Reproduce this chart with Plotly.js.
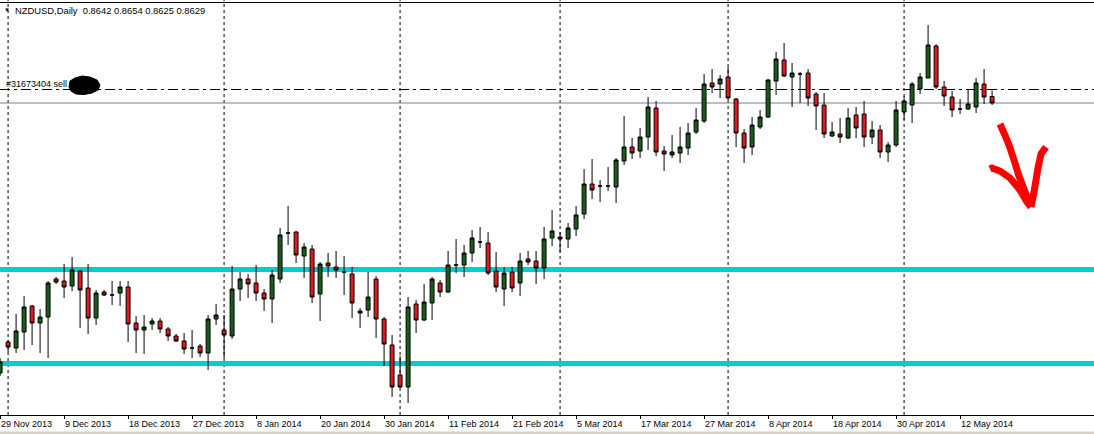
<!DOCTYPE html>
<html><head><meta charset="utf-8">
<script src="https://cdn.plot.ly/plotly-3.0.1.min.js"></script>
<style>html,body{margin:0;padding:0;background:#fff}#chart{width:1094px;height:434px}</style>
</head><body><div id="chart"></div>
<script>
// NZDUSD daily bars, 29 Nov 2013 .. 16 May 2014 (one entry per bar)
const openP = [
0.8089,0.8151,0.8139,0.8171,0.8223,0.8189,0.8201,0.8277,0.8273,0.8263,
0.8293,0.8259,0.8199,0.8251,0.8245,0.8249,0.8261,0.8189,0.8175,0.8187,
0.8193,0.8177,0.8163,0.8153,0.8139,0.8143,0.8129,0.8197,0.8175,0.8163,
0.8257,0.8277,0.8269,0.8249,0.8237,0.8277,0.8369,0.8371,0.8323,0.8337,
0.8247,0.8309,0.8301,0.8291,0.8287,0.8209,0.8215,0.8277,0.8197,0.8145,
0.8085,0.8061,0.8227,0.8195,0.8229,0.8269,0.8251,0.8305,0.8305,0.8329,
0.8351,0.8349,0.8293,0.8257,0.8291,0.8269,0.8317,0.8313,0.8299,0.8359,
0.8361,0.8357,0.8377,0.8407,0.8467,0.8463,0.8463,0.8461,0.8513,0.8541,
0.8533,0.8561,0.8619,0.8533,0.8525,0.8529,0.8539,0.8571,0.8593,0.8669,
0.8667,0.8681,0.8637,0.8569,0.8541,0.8581,0.8601,0.8673,0.8715,0.8681,
0.8687,0.8689,0.8647,0.8625,0.8563,0.8567,0.8559,0.8605,0.8607,0.8561,
0.8575,0.8531,0.8545,0.8611,0.8625,0.8657,0.8679,0.8743,0.8661,0.8641,
0.8617,0.8617,0.8621,0.8667,0.8642];
const highP = [
0.8119,0.8155,0.8207,0.8243,0.8225,0.8217,0.8273,0.8281,0.8307,0.8321,
0.8295,0.8307,0.8255,0.8255,0.8273,0.8273,0.8273,0.8203,0.8205,0.8199,
0.8199,0.8181,0.8167,0.8169,0.8175,0.8147,0.8205,0.8227,0.8205,0.8303,
0.8291,0.8287,0.8305,0.8257,0.8295,0.8379,0.8423,0.8373,0.8349,0.8345,
0.8311,0.8329,0.8333,0.8323,0.8301,0.8219,0.8291,0.8283,0.8201,0.8165,
0.8123,0.8241,0.8235,0.8267,0.8281,0.8275,0.8333,0.8357,0.8345,0.8375,
0.8381,0.8371,0.8331,0.8301,0.8301,0.8329,0.8333,0.8333,0.8381,0.8415,
0.8371,0.8389,0.8423,0.8497,0.8517,0.8475,0.8501,0.8519,0.8603,0.8559,
0.8579,0.8641,0.8633,0.8543,0.8565,0.8581,0.8589,0.8619,0.8687,0.8697,
0.8685,0.8701,0.8639,0.8577,0.8601,0.8615,0.8677,0.8731,0.8749,0.8709,
0.8691,0.8697,0.8651,0.8649,0.8591,0.8599,0.8619,0.8621,0.8633,0.8593,
0.8585,0.8551,0.8633,0.8643,0.8671,0.8689,0.8785,0.8747,0.8673,0.8653,
0.8637,0.8657,0.8679,0.8697,0.8654];
const lowP = [
0.8083,0.8131,0.8129,0.8135,0.8145,0.8129,0.8119,0.8267,0.8239,0.8253,
0.8179,0.8167,0.8185,0.8243,0.8225,0.8223,0.8151,0.8129,0.8127,0.8175,
0.8169,0.8153,0.8151,0.8127,0.8119,0.8121,0.8095,0.8185,0.8119,0.8157,
0.8233,0.8239,0.8233,0.8213,0.8189,0.8269,0.8345,0.8309,0.8279,0.8229,
0.8193,0.8281,0.8279,0.8245,0.8199,0.8179,0.8201,0.8159,0.8103,0.8041,
0.8059,0.8029,0.8169,0.8193,0.8195,0.8241,0.8249,0.8289,0.8281,0.8311,
0.8339,0.8285,0.8251,0.8223,0.8251,0.8243,0.8305,0.8267,0.8277,0.8343,
0.8331,0.8339,0.8363,0.8397,0.8437,0.8431,0.8453,0.8429,0.8505,0.8517,
0.8519,0.8535,0.8523,0.8493,0.8519,0.8509,0.8525,0.8567,0.8589,0.8649,
0.8639,0.8635,0.8541,0.8509,0.8525,0.8577,0.8599,0.8645,0.8681,0.8621,
0.8629,0.8623,0.8575,0.8559,0.8561,0.8549,0.8557,0.8559,0.8541,0.8547,
0.8519,0.8511,0.8541,0.8595,0.8589,0.8647,0.8679,0.8657,0.8623,0.8601,
0.8607,0.8615,0.8609,0.8627,0.8625];
const closeP = [
0.8111,0.8141,0.8173,0.8221,0.8189,0.8201,0.8269,0.8271,0.8261,0.8295,
0.8255,0.8199,0.8249,0.8245,0.8245,0.8261,0.8187,0.8175,0.8181,0.8193,
0.8177,0.8163,0.8153,0.8137,0.8139,0.8129,0.8197,0.8205,0.8165,0.8257,
0.8277,0.8267,0.8249,0.8237,0.8285,0.8365,0.8369,0.8325,0.8341,0.8241,
0.8307,0.8303,0.8295,0.8291,0.8229,0.8213,0.8241,0.8197,0.8147,0.8061,
0.8061,0.8221,0.8195,0.8231,0.8277,0.8251,0.8305,0.8305,0.8329,0.8359,
0.8351,0.8289,0.8261,0.8289,0.8259,0.8313,0.8311,0.8299,0.8357,0.8373,
0.8357,0.8379,0.8405,0.8467,0.8455,0.8463,0.8463,0.8515,0.8541,0.8529,
0.8561,0.8621,0.8531,0.8527,0.8531,0.8541,0.8569,0.8595,0.8667,0.8661,
0.8677,0.8639,0.8569,0.8539,0.8585,0.8601,0.8675,0.8717,0.8683,0.8689,
0.8687,0.8639,0.8623,0.8567,0.8571,0.8561,0.8599,0.8579,0.8561,0.8575,
0.8531,0.8545,0.8615,0.8633,0.8667,0.8681,0.8745,0.8661,0.8643,0.8615,
0.8617,0.8627,0.8669,0.8641,0.8629];

// time-scale labels (one every 8 bars) and first bar of each month
const tickLabels = ["29 Nov 2013","9 Dec 2013","18 Dec 2013","27 Dec 2013","8 Jan 2014",
  "20 Jan 2014","30 Jan 2014","11 Feb 2014","21 Feb 2014","5 Mar 2014","17 Mar 2014",
  "27 Mar 2014","8 Apr 2014","18 Apr 2014","30 Apr 2014","12 May 2014"];
const barsPerTick = 8;
const monthStartBars = [1, 28, 50, 70, 91, 113];

// horizontal levels
const supportLevels = [0.8296, 0.8108];
const orderPrice = 0.8656;
const orderLabel = "#31673404 sell";
const symbolTitle = "NZDUSD,Daily";

// ---------- drawing ----------
const W = 1094, H = 434, PB = 415;
const px = x => x / W;
const py = y => (PB - y) / PB;
const FONT = "Liberation Sans, Arial, sans-serif";

const idx = openP.map((_, i) => i);
const last = openP.length - 1;
const bidPrice = closeP[last];

const trace = {
  type: 'candlestick',
  x: idx, open: openP, high: highP, low: lowP, close: closeP,
  increasing: {line: {color: '#000000', width: 1}, fillcolor: '#1e5c1e'},
  decreasing: {line: {color: '#000000', width: 1}, fillcolor: '#e0181f'},
  whiskerwidth: 0,
  hoverinfo: 'skip',
  showlegend: false
};

const shapes = [];
// top frame line
shapes.push({type:'line', xref:'paper', yref:'paper', x0:0, x1:1, y0:py(2.5), y1:py(2.5),
  line:{color:'#000', width:1}});
// month separators
monthStartBars.forEach(b => shapes.push({type:'line', xref:'x', yref:'paper', x0:b, x1:b, y0:0, y1:1,
  line:{color:'#000', width:1, dash:'3px,3px'}, layer:'below'}));
// support / resistance
supportLevels.forEach(v => shapes.push({type:'line', xref:'paper', yref:'y', x0:0, x1:1, y0:v, y1:v,
  line:{color:'#00cdd0', width:5}, layer:'below'}));
// order line
shapes.push({type:'line', xref:'paper', yref:'y', x0:0, x1:1, y0:orderPrice, y1:orderPrice,
  line:{color:'#000', width:1, dash:'10px,4px,3px,4px'}, layer:'below'});
// bid line
shapes.push({type:'line', xref:'paper', yref:'y', x0:0, x1:1, y0:bidPrice, y1:bidPrice,
  line:{color:'#70808f', width:1}, layer:'below'});
// bottom gray strip
shapes.push({type:'rect', xref:'paper', yref:'paper', x0:0, x1:1, y0:py(434.5), y1:py(431.5),
  fillcolor:'#d4d0c8', line:{width:0}});

function pathOf(pts, close) {
  return 'M' + pts.map(p => px(p[0]) + ',' + py(p[1])).join('L') + (close ? 'Z' : '');
}
// redaction blob
shapes.push({type:'path', xref:'paper', yref:'paper',
  path: pathOf([[69,87],[70,81],[75,78],[82,76],[90,77],[97,80],[100,85],[98,90],[92,93],[84,94.5],[76,94],[71,91]], true),
  fillcolor:'#000', line:{color:'#000', width:1}});
// hand-drawn red arrow
const arrowStrokes = [
  [[1000,124],[1004,133],[1009,145],[1014,160],[1019,176],[1024,189],[1030,205]],
  [[990,169],[992,168],[1000,171],[1010,178],[1020,190],[1027,202],[1031,207]],
  [[1031,207],[1034,192],[1038,168],[1041,154],[1046,147]]
];
arrowStrokes.forEach(s => shapes.push({type:'path', xref:'paper', yref:'paper', path: pathOf(s, false),
  line:{color:'#ff0000', width:7}}));

const headerText = symbolTitle + '\u00a0\u00a0' + [openP[last], highP[last], lowP[last], closeP[last]]
  .map(v => v.toFixed(4)).join(' ');

const annotations = [
  {xref:'paper', yref:'paper', x:px(13), y:py(10.5), xanchor:'left', yanchor:'middle', showarrow:false,
   text: headerText, font:{family:FONT, size:9.4, color:'#000'}},
  {xref:'paper', yref:'paper', x:px(1.5), y:py(10), xanchor:'left', yanchor:'middle', showarrow:false,
   text:'\u25BC', font:{family:FONT, size:6, color:'#000'}},
  {xref:'paper', yref:'paper', x:px(4), y:py(83.5), xanchor:'left', yanchor:'middle', showarrow:false,
   text: orderLabel, font:{family:FONT, size:9, color:'#000'}}
];

const layout = {
  width: W, height: H,
  margin: {l:0, r:0, t:0, b:H - PB, pad:0},
  paper_bgcolor:'#ffffff', plot_bgcolor:'#ffffff',
  showlegend:false,
  xaxis: {
    range: [-0.01, -0.01 + W / 8],
    rangeslider: {visible:false},
    showgrid:false, zeroline:false,
    showline:true, linecolor:'#000', linewidth:1,
    ticks:'outside', ticklen:3, tickcolor:'#000', tickwidth:1,
    tickmode:'array',
    tickvals: tickLabels.map((_, i) => i * barsPerTick),
    ticktext: tickLabels,
    ticklabelposition:'outside right',
    tickfont:{family:FONT, size:9, color:'#000'},
    fixedrange:true
  },
  yaxis: {
    range:[0.8005, 0.8835],
    visible:false, showgrid:false, zeroline:false, fixedrange:true
  },
  shapes: shapes,
  annotations: annotations
};

Plotly.newPlot('chart', [trace], layout, {displayModeBar:false, staticPlot:true});
</script>
</body></html>
